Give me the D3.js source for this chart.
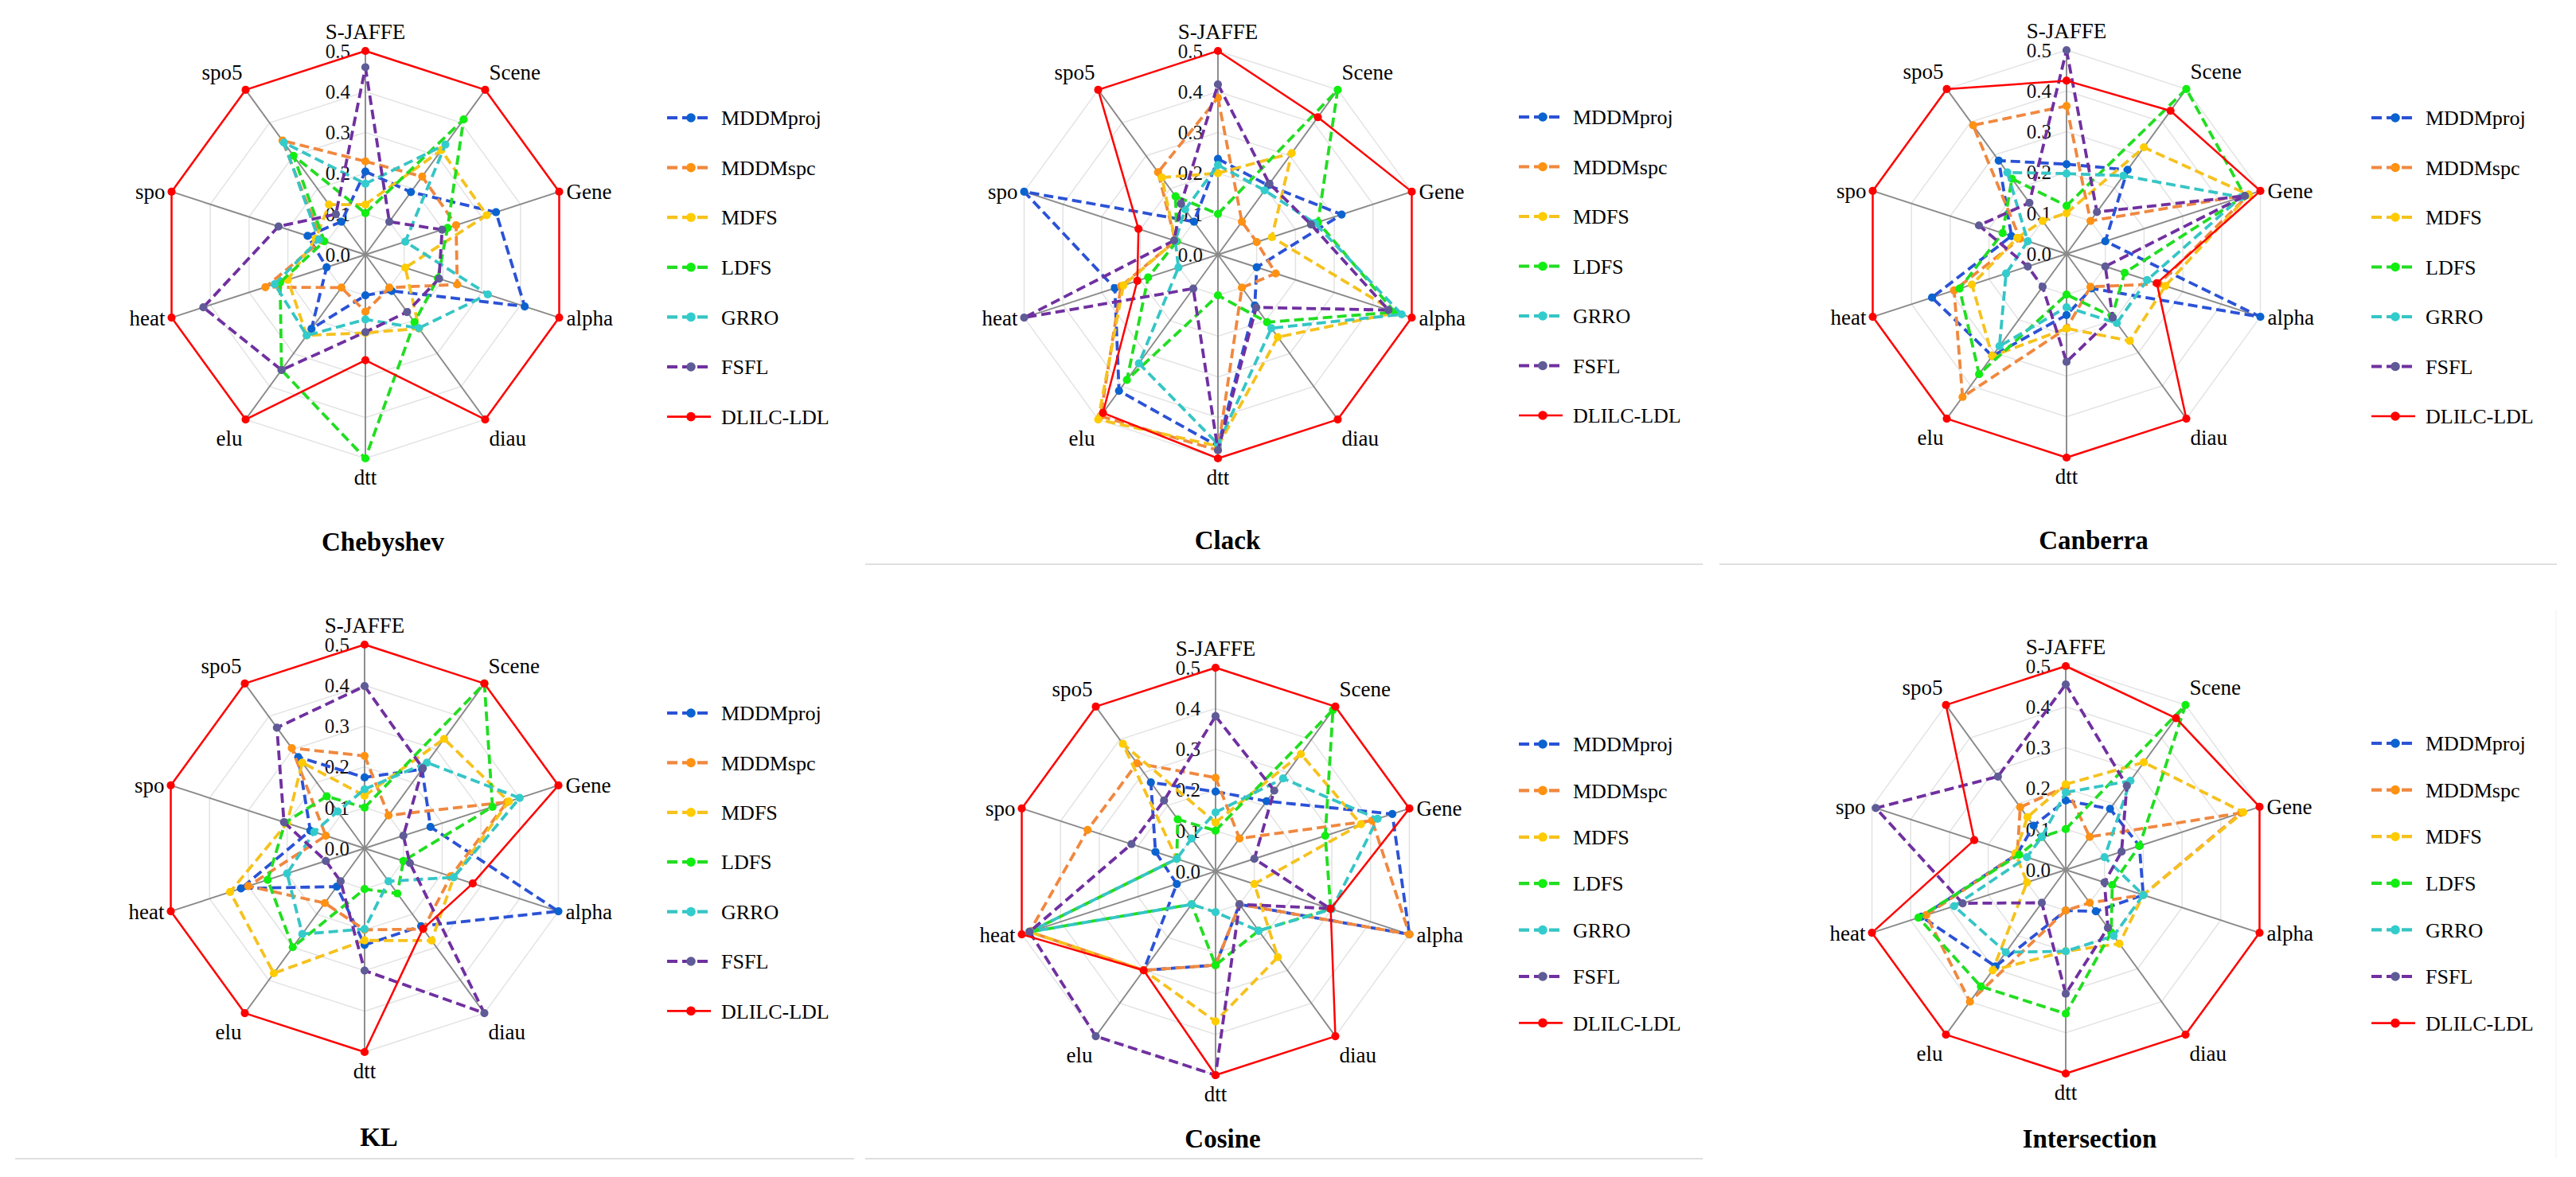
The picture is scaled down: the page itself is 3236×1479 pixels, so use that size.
<!DOCTYPE html>
<html>
<head>
<meta charset="utf-8">
<script src="https://cdn.jsdelivr.net/npm/d3@7"></script>
<style>
body { margin: 0; background: #fff; }
</style>
</head>
<body>
<div id="chartContainer"></div>
<script>
// radar axes, methods and ticks
const axesNames = ["S-JAFFE", "Scene", "Gene", "alpha", "diau", "dtt", "elu", "heat", "spo", "spo5"];
const methods = ["MDDMproj", "MDDMspc", "MDFS", "LDFS", "GRRO", "FSFL", "DLILC-LDL"];
const tickValues = [0.0, 0.1, 0.2, 0.3, 0.4, 0.5];

// one row per method, values in axesNames order
const chebyshev = [
    [0.204, 0.19, 0.337, 0.411, 0.11, 0.1, 0.225, 0.1, 0.149, 0.1],
    [0.229, 0.237, 0.234, 0.237, 0.1, 0.14, 0.1, 0.258, 0.113, 0.346],
    [0.123, 0.317, 0.313, 0.103, 0.224, 0.192, 0.245, 0.2, 0.128, 0.152],
    [0.102, 0.41, 0.212, 0.187, 0.205, 0.5, 0.35, 0.22, 0.106, 0.3],
    [0.174, 0.334, 0.103, 0.316, 0.223, 0.159, 0.245, 0.234, 0.12, 0.34],
    [0.46, 0.1, 0.198, 0.19, 0.174, 0.19, 0.35, 0.418, 0.224, 0.123],
    [0.5, 0.5, 0.5, 0.5, 0.5, 0.259, 0.5, 0.5, 0.5, 0.5]
];
const clack = [
    [0.235, 0.21, 0.319, 0.1, 0.154, 0.47, 0.413, 0.266, 0.5, 0.1],
    [0.385, 0.1, 0.1, 0.149, 0.1, 0.48, 0.49, 0.25, 0.11, 0.25],
    [0.2, 0.308, 0.139, 0.46, 0.25, 0.47, 0.5, 0.244, 0.11, 0.234],
    [0.1, 0.5, 0.258, 0.456, 0.205, 0.1, 0.38, 0.18, 0.106, 0.177],
    [0.22, 0.195, 0.25, 0.474, 0.223, 0.465, 0.33, 0.102, 0.11, 0.137],
    [0.418, 0.215, 0.24, 0.44, 0.16, 0.48, 0.103, 0.5, 0.113, 0.154],
    [0.5, 0.417, 0.5, 0.5, 0.5, 0.5, 0.48, 0.208, 0.205, 0.5]
];
const canberra = [
    [0.22, 0.255, 0.1, 0.5, 0.105, 0.15, 0.31, 0.347, 0.142, 0.283],
    [0.363, 0.1, 0.47, 0.238, 0.1, 0.183, 0.434, 0.29, 0.12, 0.39],
    [0.1, 0.323, 0.47, 0.255, 0.264, 0.183, 0.31, 0.244, 0.127, 0.1],
    [0.118, 0.5, 0.46, 0.15, 0.19, 0.1, 0.365, 0.276, 0.165, 0.228],
    [0.197, 0.237, 0.45, 0.208, 0.21, 0.131, 0.28, 0.156, 0.1, 0.247],
    [0.5, 0.127, 0.46, 0.1, 0.193, 0.265, 0.1, 0.1, 0.226, 0.155],
    [0.425, 0.434, 0.5, 0.233, 0.5, 0.5, 0.5, 0.5, 0.5, 0.5]
];
const kl = [
    [0.174, 0.24, 0.17, 0.5, 0.236, 0.237, 0.116, 0.319, 0.14, 0.277],
    [0.227, 0.1, 0.368, 0.222, 0.245, 0.2, 0.166, 0.3, 0.1, 0.304],
    [0.129, 0.332, 0.372, 0.23, 0.28, 0.226, 0.379, 0.347, 0.2, 0.26],
    [0.1, 0.5, 0.33, 0.1, 0.137, 0.1, 0.3, 0.25, 0.205, 0.158],
    [0.145, 0.26, 0.4, 0.23, 0.1, 0.198, 0.26, 0.2, 0.13, 0.112],
    [0.398, 0.243, 0.1, 0.117, 0.5, 0.3, 0.1, 0.1, 0.208, 0.366],
    [0.5, 0.5, 0.5, 0.279, 0.244, 0.5, 0.5, 0.5, 0.5, 0.5]
];
const cosine = [
    [0.196, 0.213, 0.456, 0.5, 0.1, 0.23, 0.3, 0.1, 0.155, 0.27],
    [0.23, 0.1, 0.404, 0.5, 0.1, 0.23, 0.3, 0.48, 0.33, 0.328],
    [0.12, 0.356, 0.375, 0.1, 0.26, 0.368, 0.3, 0.48, 0.1, 0.387],
    [0.1, 0.49, 0.283, 0.297, 0.18, 0.23, 0.1, 0.48, 0.1, 0.158],
    [0.145, 0.282, 0.418, 0.3, 0.18, 0.1, 0.1, 0.48, 0.1, 0.1],
    [0.381, 0.245, 0.1, 0.295, 0.1, 0.5, 0.5, 0.48, 0.217, 0.215],
    [0.5, 0.5, 0.5, 0.297, 0.5, 0.5, 0.3, 0.5, 0.5, 0.5]
];
const intersection = [
    [0.17, 0.185, 0.19, 0.2, 0.126, 0.1, 0.293, 0.372, 0.125, 0.134],
    [0.204, 0.1, 0.452, 0.2, 0.1, 0.1, 0.4, 0.36, 0.125, 0.19],
    [0.21, 0.326, 0.458, 0.2, 0.224, 0.2, 0.305, 0.1, 0.13, 0.16],
    [0.1, 0.5, 0.19, 0.12, 0.19, 0.353, 0.354, 0.38, 0.12, 0.1],
    [0.19, 0.27, 0.1, 0.2, 0.2, 0.2, 0.25, 0.288, 0.1, 0.1],
    [0.455, 0.255, 0.144, 0.1, 0.176, 0.304, 0.1, 0.266, 0.49, 0.283],
    [0.5, 0.46, 0.5, 0.5, 0.5, 0.5, 0.5, 0.5, 0.236, 0.5]
];

const lineColors = ["#2b52d6", "#f0883f", "#f5c21e", "#22dd22", "#36c5c5", "#7030a0", "#ff0000"];
const dotColors = ["#0b63cf", "#ff9212", "#ffcc00", "#11ee11", "#33cccc", "#5f5b97", "#ff0000"];

const W = 3236, H = 1479;
const R = 256;
const serif = "Liberation Serif, DejaVu Serif, Times New Roman, serif";

// layout of the six panels
const panels = [
    {title: "Chebyshev", data: chebyshev, cx: 459, cy: 320, titleX: 481, titleY: 692, legendX: 838, legendY: 148, legendStep: 62.6},
    {title: "Clack", data: clack, cx: 1530, cy: 320, titleX: 1542, titleY: 690, legendX: 1908, legendY: 147, legendStep: 62.5},
    {title: "Canberra", data: canberra, cx: 2596, cy: 319, titleX: 2630, titleY: 690, legendX: 2979, legendY: 148, legendStep: 62.5},
    {title: "KL", data: kl, cx: 458, cy: 1066, titleX: 476, titleY: 1440, legendX: 838, legendY: 896, legendStep: 62.4},
    {title: "Cosine", data: cosine, cx: 1527, cy: 1095, titleX: 1536, titleY: 1442, legendX: 1908, legendY: 935, legendStep: 58.4},
    {title: "Intersection", data: intersection, cx: 2595, cy: 1093, titleX: 2625, titleY: 1442, legendX: 2979, legendY: 934, legendStep: 58.6}
];

const svg = d3.select("#chartContainer").append("svg")
    .attr("width", W)
    .attr("height", H)
    .style("font-family", serif)
    .style("display", "block")
    .style("background", "#fff");

const rScale = d3.scaleLinear().domain([0, 0.5]).range([0, R]);
const angle = d3.scalePoint().domain(axesNames).range([0, 2 * Math.PI * 9 / 10]);
const radial = d3.lineRadial().curve(d3.curveLinearClosed);

// separators between panels
const seps = [
    [1087, 709, 2139, 709],
    [2160, 709, 3212, 709],
    [19, 1456, 1073, 1456],
    [1087, 1456, 2139, 1456]
];
svg.selectAll(".sep").data(seps).join("line")
    .attr("class", "sep")
    .attr("x1", d => d[0]).attr("y1", d => d[1])
    .attr("x2", d => d[2]).attr("y2", d => d[3])
    .attr("stroke", "#d4d4d4")
    .attr("stroke-width", 1.5);
svg.append("line")
    .attr("x1", 3211).attr("y1", 766).attr("x2", 3211).attr("y2", 1456)
    .attr("stroke", "#f0f0f0").attr("stroke-width", 1);

const drawPanel = (p) => {
    const g = svg.append("g").attr("transform", `translate(${p.cx}, ${p.cy})`);

    // grid rings
    tickValues.slice(1).forEach(t => {
        g.append("path")
            .attr("d", radial(axesNames.map(a => [angle(a), rScale(t)])))
            .attr("fill", "none")
            .attr("stroke", "#e3e3e3")
            .attr("stroke-width", 1.5);
    });

    // spokes
    g.selectAll(".spoke").data(axesNames).join("line")
        .attr("class", "spoke")
        .attr("x1", 0).attr("y1", 0)
        .attr("x2", d => d3.pointRadial(angle(d), R)[0])
        .attr("y2", d => d3.pointRadial(angle(d), R)[1])
        .attr("stroke", "#8a8a8a")
        .attr("stroke-width", 1.9);

    // tick labels on the first axis
    g.selectAll(".tick").data(tickValues).join("text")
        .attr("class", "tick")
        .attr("x", -19)
        .attr("y", d => -rScale(d))
        .attr("dy", "0.35em")
        .attr("text-anchor", "end")
        .style("font-family", serif)
        .style("font-size", "25px")
        .style("fill", "#111")
        .text(d => d3.format(".1f")(d));

    // axis names
    g.selectAll(".axname").data(axesNames).join("text")
        .attr("class", "axname")
        .style("font-family", serif)
        .style("font-size", "27px")
        .style("fill", "#000")
        .each(function(d) {
            const a = angle(d);
            const s = Math.sin(a), c = Math.cos(a);
            const [vx, vy] = d3.pointRadial(a, R);
            let x = vx, y, anchor = "middle";
            if (Math.abs(s) < 0.01) {
                y = c > 0 ? vy - 15 : vy + 33;
            } else {
                anchor = s > 0 ? "start" : "end";
                if (Math.abs(c) > 0.5) {
                    x = vx + (s > 0 ? 5 : -4);
                    y = c > 0 ? vy - 13 : vy + 33;
                } else {
                    x = vx + (s > 0 ? 9 : -8);
                    y = vy + 9.5;
                }
            }
            d3.select(this).attr("x", x).attr("y", y).attr("text-anchor", anchor).text(d);
        });

    // series
    p.data.forEach((vals, i) => {
        const pts = axesNames.map((a, j) => [angle(a), rScale(vals[j])]);
        const solid = i === methods.length - 1;
        const sg = g.append("g");
        sg.append("path")
            .attr("d", radial(pts))
            .attr("fill", "none")
            .attr("stroke", lineColors[i])
            .attr("stroke-width", solid ? 2.5 : 3.8)
            .attr("stroke-dasharray", solid ? null : "12,6")
            .attr("stroke-linejoin", "round");
        sg.selectAll("circle").data(pts).join("circle")
            .attr("cx", d => d3.pointRadial(d[0], d[1])[0])
            .attr("cy", d => d3.pointRadial(d[0], d[1])[1])
            .attr("r", 5.1)
            .attr("fill", dotColors[i]);
    });

    // legend
    const lg = svg.append("g").attr("transform", `translate(${p.legendX}, ${p.legendY})`);
    methods.forEach((m, i) => {
        const y = i * p.legendStep;
        const solid = i === methods.length - 1;
        lg.append("line")
            .attr("x1", 0).attr("x2", 55)
            .attr("y1", y).attr("y2", y)
            .attr("stroke", lineColors[i])
            .attr("stroke-width", solid ? 2.6 : 4.2)
            .attr("stroke-dasharray", solid ? null : "13,6");
        lg.append("circle")
            .attr("cx", 30).attr("cy", y).attr("r", 5.8)
            .attr("fill", dotColors[i]);
        lg.append("text")
            .attr("x", 68).attr("y", y)
            .attr("dy", "0.35em")
            .style("font-family", serif)
            .style("font-size", "26px")
            .style("fill", "#000")
            .text(m);
    });

    // title
    svg.append("text")
        .attr("x", p.titleX)
        .attr("y", p.titleY)
        .attr("text-anchor", "middle")
        .style("font-family", serif)
        .style("font-size", "33px")
        .style("font-weight", "bold")
        .style("fill", "#000")
        .text(p.title);
};

panels.forEach(drawPanel);
</script>
</body>
</html>
